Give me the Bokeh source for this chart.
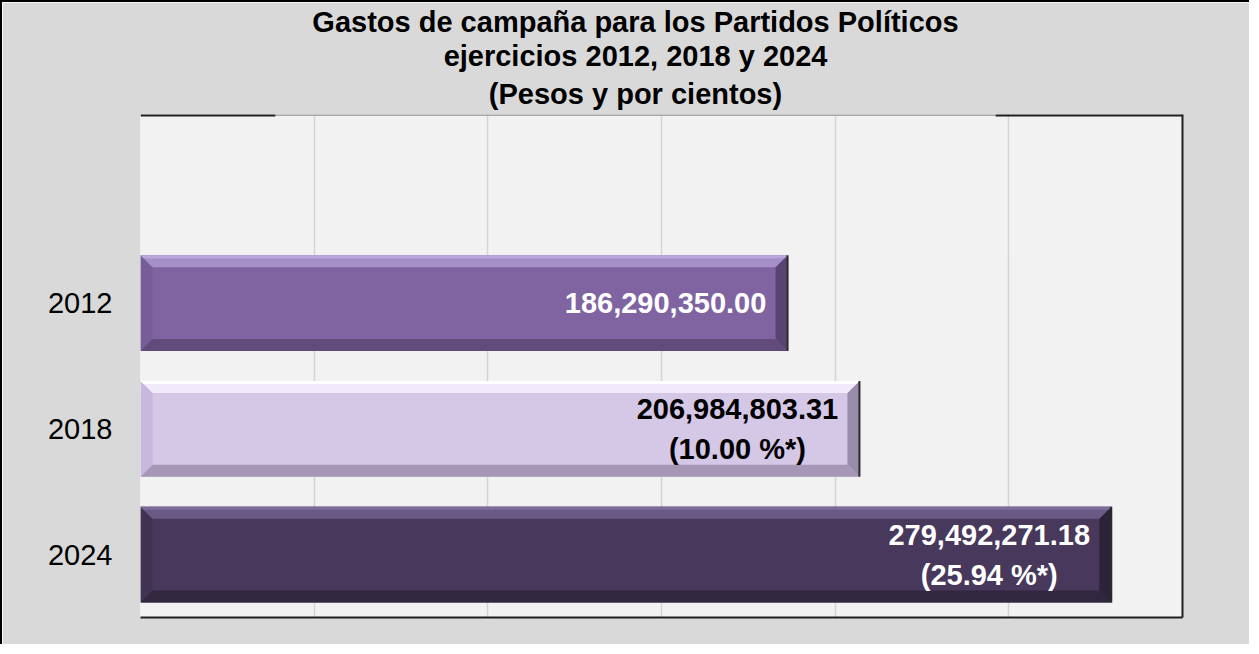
import numpy as np
from bokeh.plotting import figure
from bokeh.models import Range1d, FixedTicker, LinearAxis, Title
from bokeh.core.properties import value
from bokeh.embed import file_html
from bokeh.resources import INLINE

# ---------------- data ----------------
title_lines = [
    "Gastos de campaña para los Partidos Políticos",
    "ejercicios 2012, 2018 y 2024",
    "(Pesos y por cientos)",
]
years = ["2012", "2018", "2024"]
amounts = [186290350.00, 206984803.31, 279492271.18]
pct_change = [None, 10.00, 25.94]
x_max = 300_000_000
grid_step = 50_000_000

# ---------------- styling ----------------
FONT = "Liberation Sans"
BORDER = 2
W, H = 1251 - BORDER, 646 - BORDER
ML, MR, MT, MB = 140 - BORDER, 69, 114 - BORDER, 29
FW = W - ML - MR
FH = H - MT - MB
n_slots = len(years) + 1          # one empty slot on top, as in the original
BAR_H = 0.76
BEVEL_PX = 12
TITLE_GAP_PX = (135, 855)         # part of the frame top hidden behind the title box
TITLE_SIZE = 29
TITLE_CENTER_PX = 495             # title centre, measured from the frame's left edge
TITLE_EM = [22.286, 13.232, 10.114]   # approximate line widths in em (bold sans)

main_col = ["#8064a2", "#d5c7e6", "#47385c"]
top_col = ["#a690c8", "#f1eafa", "#6c5a86"]
top_hl = ["#bba8da", "#ffffff", "#7d6b98"]
left_col = ["#765c98", "#c8b8dd", "#403352"]
right_col = ["#574472", "#9a8dab", "#2c2339"]
bottom_col = ["#604b7b", "#a597b5", "#31273f"]
label_col = ["white", "black", "white"]

p = figure(width=W, height=H, output_backend="svg", toolbar_location=None, title=None,
           x_range=Range1d(0, x_max), y_range=Range1d(-0.5, n_slots - 0.5),
           min_border_left=ML, min_border_right=MR, min_border_top=MT, min_border_bottom=MB,
           background_fill_color="#f2f2f2", border_fill_color="#d9d9d9",
           outline_line_color=None)
p.styles = {"border-top": f"{BORDER}px solid #000000", "border-left": f"{BORDER}px solid #000000"}

# title: one Title per line, added from the bottom line upwards
for k, (line, em) in reversed(list(enumerate(zip(title_lines, TITLE_EM)))):
    p.add_layout(Title(text=line, align="left",
                       offset=TITLE_CENTER_PX - em * TITLE_SIZE / 2,
                       standoff=9 if k == len(title_lines) - 1 else 0,
                       text_font=FONT, text_font_style="bold",
                       text_font_size=f"{TITLE_SIZE}px", text_color="black"), "above")

# grid
p.ygrid.visible = False
p.xgrid.ticker = FixedTicker(ticks=list(np.arange(grid_step, x_max, grid_step)))
p.xgrid.grid_line_color = "#d4d4d4"
p.xgrid.grid_line_width = 1.5

# axes
p.xaxis.ticker = FixedTicker(ticks=[])
p.xaxis.axis_line_color = "#1f1f1f"
p.xaxis.axis_line_width = 2
p.xaxis.major_tick_line_color = None
p.xaxis.minor_tick_line_color = None

ys = [n_slots - 2 - i for i in range(len(years))]
p.yaxis.ticker = FixedTicker(ticks=ys)
p.yaxis.major_label_overrides = {y: yr for y, yr in zip(ys, years)}
p.yaxis.axis_line_color = None
p.yaxis.major_tick_line_color = None
p.yaxis.minor_tick_line_color = None
p.yaxis.major_tick_out = 0
p.yaxis.major_tick_in = 0
p.yaxis.major_label_standoff = 28
p.yaxis.major_label_text_font = FONT
p.yaxis.major_label_text_font_size = "29px"
p.yaxis.major_label_text_color = "black"

p.add_layout(LinearAxis(ticker=FixedTicker(ticks=[]), axis_line_color="#1f1f1f", axis_line_width=2,
                        major_tick_line_color=None, minor_tick_line_color=None), "right")

# top edge of the plot area: dark on both ends, light where the title box sits
y_top = n_slots - 0.5
xl = TITLE_GAP_PX[0] * x_max / FW
xr = TITLE_GAP_PX[1] * x_max / FW
p.segment(x0=[0, xr], x1=[xl, x_max], y0=[y_top, y_top], y1=[y_top, y_top],
          line_color="#1f1f1f", line_width=4)
p.segment(x0=[xl], x1=[xr], y0=[y_top], y1=[y_top], line_color="#a6a6a6", line_width=3)

# bars with bevel
p.hbar(y=ys, left=0, right=amounts, height=BAR_H, fill_color=main_col, line_color=None)

bx = BEVEL_PX * x_max / FW
by = BEVEL_PX * n_slots / FH
hx = 3 * x_max / FW
hy = 3 * n_slots / FH
faces_x, faces_y, faces_c = [], [], []
for a, y, i in zip(amounts, ys, range(len(years))):
    x0, x1 = 0.0, a
    y0, y1 = y - BAR_H / 2, y + BAR_H / 2
    faces_x += [[x0, x0, x0 + bx, x0 + bx],
                [x1, x1, x1 - bx, x1 - bx],
                [x0, x1, x1 - bx, x0 + bx],
                [x0, x1, x1 - bx, x0 + bx],
                [x0, x1, x1 - hx, x0 + hx]]
    faces_y += [[y0, y1, y1 - by, y0 + by],
                [y0, y1, y1 - by, y0 + by],
                [y0, y0, y0 + by, y0 + by],
                [y1, y1, y1 - by, y1 - by],
                [y1, y1, y1 - hy, y1 - hy]]
    faces_c += [left_col[i], right_col[i], bottom_col[i], top_col[i], top_hl[i]]
p.patches(xs=faces_x, ys=faces_y, fill_color=faces_c, line_color=None)

# edge line on right side of bars
p.segment(x0=amounts, x1=amounts, y0=[y - BAR_H / 2 for y in ys], y1=[y + BAR_H / 2 for y in ys],
          line_color="#2a2a2a", line_width=2)

# value labels
texts = [f"{a:,.2f}" + (f"\n({c:.2f} %*)" if c is not None else "")
         for a, c in zip(amounts, pct_change)]
p.text(x=amounts, y=ys, text=texts, x_offset=-122, text_align="center", text_baseline="middle",
       text_color=label_col, text_font=value(FONT), text_font_style="bold",
       text_font_size="29px", text_line_height=1.25)

open("out.html", "w").write(file_html(p, INLINE))
